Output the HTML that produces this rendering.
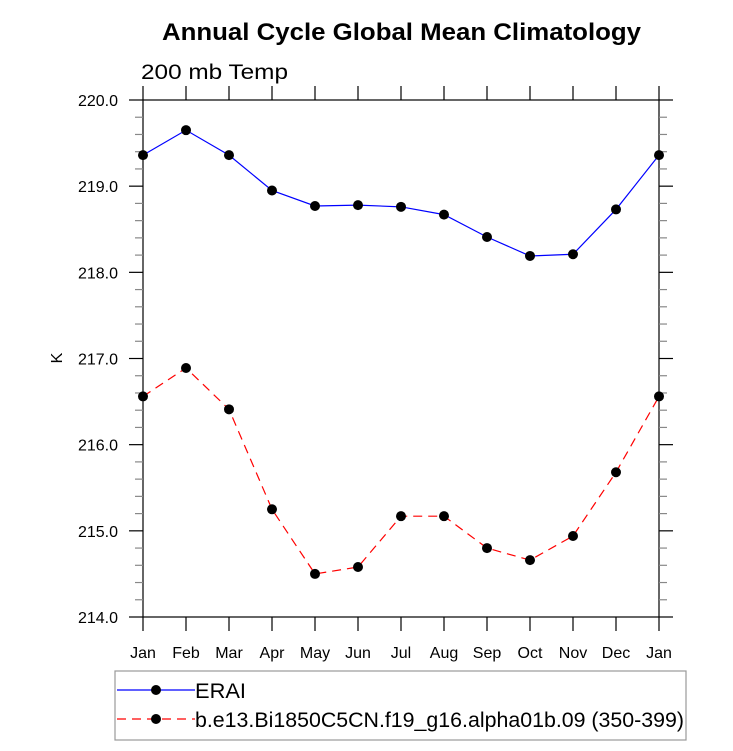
<!DOCTYPE html>
<html><head><meta charset="utf-8"><style>
body{margin:0;background:#fff;}
svg text{font-family:"Liberation Sans",sans-serif;}
</style></head><body>
<svg id="chart" width="733" height="746" xmlns="http://www.w3.org/2000/svg">
<text x="162" y="40" font-size="24" font-weight="bold" textLength="479" lengthAdjust="spacingAndGlyphs">Annual Cycle Global Mean Climatology</text>
<text x="141" y="79" font-size="21" textLength="147" lengthAdjust="spacingAndGlyphs">200 mb Temp</text>
<text x="62" y="358" font-size="16" text-anchor="middle" transform="rotate(-90 62 358)">K</text>
<g id="axes"></g>
<g id="series"></g>
<g>
<rect x="115" y="671" width="571" height="69" fill="none" stroke="#999" stroke-width="1.2"/>
<line x1="117" y1="690" x2="195" y2="690" stroke="#0000ff" stroke-width="1.2"/>
<circle cx="156" cy="690" r="5" fill="#000"/>
<text x="195" y="698" font-size="21" textLength="51" lengthAdjust="spacingAndGlyphs">ERAI</text>
<line x1="117" y1="719" x2="195" y2="719" stroke="#ff0000" stroke-width="1.2" stroke-dasharray="9,6"/>
<circle cx="156" cy="719" r="5" fill="#000"/>
<text x="195" y="727" font-size="21" textLength="489" lengthAdjust="spacingAndGlyphs">b.e13.Bi1850C5CN.f19_g16.alpha01b.09 (350-399)</text>
</g>
</svg>
<script>
const months=["Jan","Feb","Mar","Apr","May","Jun","Jul","Aug","Sep","Oct","Nov","Dec","Jan"];
const eraiValues=[219.36,219.65,219.36,218.95,218.77,218.78,218.76,218.67,218.41,218.19,218.21,218.73,219.36];
const modelValues=[216.56,216.89,216.41,215.25,214.50,214.58,215.17,215.17,214.80,214.66,214.94,215.68,216.56];
const yTicks=[214,215,216,217,218,219,220];
const NS="http://www.w3.org/2000/svg";
const L=143,R=659,T=100,B=617,yMin=214,yMax=220;
function xs(i){return L+(R-L)*i/(months.length-1);}
function ys(v){return B-(v-yMin)/(yMax-yMin)*(B-T);}
function mk(tag,attrs,parent){const e=document.createElementNS(NS,tag);for(const k in attrs)e.setAttribute(k,attrs[k]);parent.appendChild(e);return e;}
const ax=document.getElementById('axes');
const frame=mk('rect',{x:L,y:T,width:R-L,height:B-T,fill:'none',stroke:'#000','stroke-width':1.2},ax);


for(let v=yMin;v<=yMax+1e-9;v+=0.2){
  const y=ys(v);const major=Math.abs(v-Math.round(v))<1e-6;const len=major?14:8;
  mk('line',{x1:L-len,y1:y,x2:L,y2:y,stroke:major?'#000':'#888','stroke-width':1.2},ax);
  mk('line',{x1:R,y1:y,x2:R+len,y2:y,stroke:major?'#000':'#888','stroke-width':1.2},ax);
}
yTicks.forEach(v=>{
  const t=mk('text',{x:L-25,y:ys(v)+6,'font-size':16,'text-anchor':'end'},ax);
  t.textContent=v.toFixed(1);
  
  
});
months.forEach((m,i)=>{
  const x=xs(i);
  mk('line',{x1:x,y1:B,x2:x,y2:B+14,stroke:'#000','stroke-width':1.2},ax);
  mk('line',{x1:x,y1:T-14,x2:x,y2:T,stroke:'#000','stroke-width':1.2},ax);
  const t=mk('text',{x:x,y:B+41,'font-size':16,'text-anchor':'middle'},ax);
  t.textContent=m;
  
  
});
const sg=document.getElementById('series');
function drawSeries(vals,color,dash,name){
  const pts=vals.map((v,i)=>xs(i)+','+ys(v)).join(' ');
  const pl=mk('polyline',{points:pts,fill:'none',stroke:color,'stroke-width':1.2,'stroke-dasharray':dash},sg);
  
  
  vals.forEach((v,i)=>{
    const c=mk('circle',{cx:xs(i),cy:ys(v),r:5,fill:'#000'},sg);
    
    
  });
}
drawSeries(eraiValues,'#0000ff','none','erai');
drawSeries(modelValues,'#ff0000','9,6','model');
</script>
</body></html>
